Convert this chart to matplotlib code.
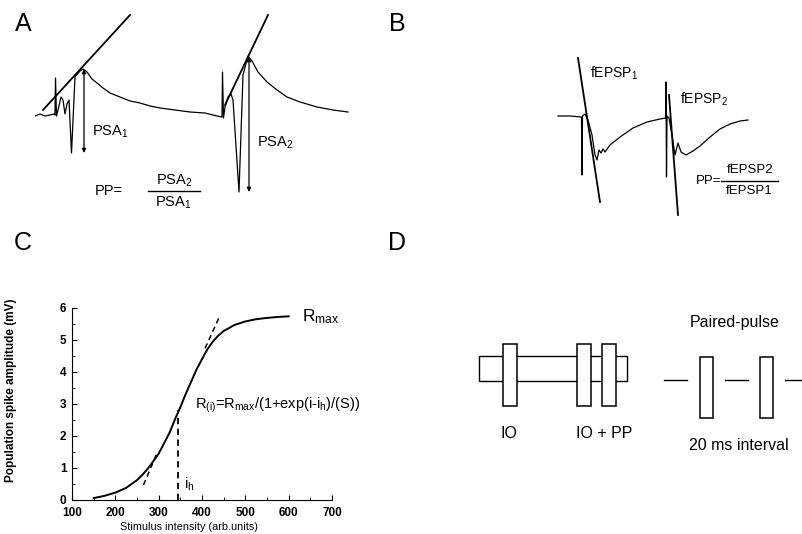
import numpy as np
import matplotlib
matplotlib.use('Agg')
import matplotlib.pyplot as plt
from matplotlib.patches import Rectangle
from matplotlib.ticker import MultipleLocator

plt.rcParams['font.family'] = ['Liberation Sans', 'DejaVu Sans']
plt.rcParams['mathtext.fontset'] = 'custom'
plt.rcParams['mathtext.rm'] = 'Liberation Sans'
plt.rcParams['mathtext.it'] = 'Liberation Sans:italic'
plt.rcParams['mathtext.bf'] = 'Liberation Sans:bold'

########################################################################
# data
########################################################################

# --- A: population spike, two sweeps (time in ms, amplitude in mV)
psa_t = [0, 1, 2, 3, 3.8, 4, 4.1, 4.3, 4.6, 5.2, 5.6, 6, 6.4, 6.8, 7.3, 8, 9, 9.6,
         10.4, 11.4, 12.4, 13.6, 15, 17, 19, 21, 23, 25, 28, 31, 34, 36.4,
         37.4, 37.5, 37.7, 38, 38.6, 39.2, 39.6, 40.8, 41.6, 42.6, 43.4, 44.6,
         46.4, 48.4, 50.4, 53, 56.4, 59.6, 62.6]
psa_v = [-0.04, 0.04, -0.04, 0, 0.04, 0, 1.48, -0.04, 0.2, 0.72, 0.6, 0.04, 0.44, 0.6,
         -1.52, 1.52, 1.76, 1.84, 1.72, 1.44, 1.28, 1.08, 0.88, 0.72, 0.56, 0.48,
         0.36, 0.28, 0.2, 0.12, 0.08, -0.04,
         -0.08, 1.72, -0.12, 0.32, 0.72, 0.84, 0.6, -3.08, 1.6, 2.36, 2.16, 1.72,
         1.32, 1.0, 0.72, 0.52, 0.32, 0.2, 0.12]
psa_tangent1 = ([1.6, 19.0], [0.2, 4.0])
psa_tangent2 = ([38.0, 46.6], [0.4, 4.0])
psa_arrow1 = (9.8, 1.84, -1.52)
psa_arrow2 = (42.8, 2.32, -3.08)

# --- B: field EPSP, two sweeps
fepsp_t = [0.6, 3, 5.3, 5.4, 5.5, 6, 6.6, 7.4, 8, 8.4, 8.8, 9.2, 9.6, 10, 11, 13, 15.6,
           18.4, 21, 22.1, 22.2, 22.3, 22.4, 22.8, 23.4, 24, 24.6, 25.2, 26.2, 27.6,
           29, 31, 33, 35, 37, 38.6]
fepsp_v = [0.04, 0.04, 0, -2.32, 0.04, 0.12, -0.12, -0.72, -1.52, -1.72, -1.32, -1.44,
           -1.28, -1.4, -1.12, -0.8, -0.44, -0.2, -0.08, -0.04, 1.4, -2.4, 0.04,
           -0.04, -0.72, -1.52, -1.04, -1.4, -1.52, -1.36, -1.16, -0.8, -0.48, -0.28,
           -0.16, -0.12]
fepsp_tangent1 = ([4.6, 9.0], [2.36, -3.4])
fepsp_tangent2 = ([22.8, 24.6], [0.88, -3.92])

# --- C: input/output curve
stim = [150, 175, 200, 225, 250, 262, 275, 287, 300, 312, 325, 337, 350, 362, 375,
        387, 400, 412, 425, 437, 450, 475, 500, 525, 550, 575, 600]
amp = [0.06, 0.13, 0.23, 0.38, 0.62, 0.78, 0.98, 1.2, 1.45, 1.76, 2.1, 2.5, 2.9,
       3.3, 3.7, 4.07, 4.4, 4.7, 4.95, 5.13, 5.28, 5.47, 5.58, 5.65, 5.69, 5.72, 5.74]
i_h = 345
tangent_lo = ([265, 296], [0.47, 1.46])
tangent_hi = ([407, 442], [4.74, 5.78])
x_ticks = [100, 200, 300, 400, 500, 600, 700]
y_ticks = [0, 1, 2, 3, 4, 5, 6]

# --- D: protocol (x, width) of the boxes
io_bar = (9, 148)
io_blocks = [33, 107, 132]
io_block_w = 14
pp_blocks = [230, 290]
pp_block_w = 13
pp_dashes = [(194, 217), (255, 278), (315, 332)]

########################################################################

fig = plt.figure(figsize=(8.02, 5.34), dpi=100)
W, H = 802.0, 534.0

def px_axes(left, top, right, bottom):
    ax = fig.add_axes([left / W, 1 - bottom / H, (right - left) / W, (bottom - top) / H])
    ax.set_axis_off()
    return ax

for lab, x, y in [('A', 23, 24), ('B', 397, 24), ('C', 23, 243), ('D', 397, 243)]:
    fig.text(x / W, 1 - y / H, lab, fontsize=18, ha='center', va='center')

### A
axA = px_axes(35, 15, 365, 215)
axA.set_xlim(0, 66)
axA.set_ylim(-4, 4)
axA.plot(psa_t, psa_v, color='black', lw=0.9)
for tx, ty in [psa_tangent1, psa_tangent2]:
    axA.plot(tx, ty, color='black', lw=1.3, clip_on=False)
for xa, top, bot in [psa_arrow1, psa_arrow2]:
    axA.annotate('', xy=(xa, bot), xytext=(xa, top),
                 arrowprops=dict(arrowstyle='<|-|>', color='black', lw=0.9,
                                 mutation_scale=6, shrinkA=0, shrinkB=0))
axA.text(11.4, -0.68, r'PSA$_\mathrm{1}$', fontsize=10.5, va='center')
axA.text(44.4, -1.12, r'PSA$_\mathrm{2}$', fontsize=10.5, va='center')
axA.text(12, -3.04, 'PP=', fontsize=10.5, va='center')
axA.text(27.8, -2.64, r'PSA$_\mathrm{2}$', fontsize=10.5, ha='center', va='center')
axA.plot([22.6, 33], [-3.02, -3.02], color='black', lw=1)
axA.text(27.6, -3.52, r'PSA$_\mathrm{1}$', fontsize=10.5, ha='center', va='center')

### B
axB = px_axes(555, 17, 805, 217)
axB.set_xlim(0, 50)
axB.set_ylim(-4, 4)
axB.plot(fepsp_t, fepsp_v, color='black', lw=0.9)
for tx, ty in [fepsp_tangent1, fepsp_tangent2]:
    axB.plot(tx, ty, color='black', lw=1.3, clip_on=False)
axB.text(7, 1.76, r'fEPSP$_\mathrm{1}$', fontsize=10, va='center')
axB.text(25, 0.72, r'fEPSP$_\mathrm{2}$', fontsize=10, va='center')
axB.text(33.2, -2.56, 'PP=', fontsize=9.5, ha='right', va='center')
axB.text(39, -2.12, 'fEPSP2', fontsize=9.5, ha='center', va='center')
axB.plot([33.2, 44.6], [-2.54, -2.54], color='black', lw=1)
axB.text(38.8, -2.96, 'fEPSP1', fontsize=9.5, ha='center', va='center')

### C
axC = fig.add_axes([72 / W, 34 / H, 260 / W, 192 / H])
axC.plot(stim, amp, color='black', lw=1.4)
axC.plot(*tangent_lo, color='black', lw=1.1, ls=(0, (3.5, 2.5)))
axC.plot(*tangent_hi, color='black', lw=1.1, ls=(0, (3.5, 2.5)))
axC.plot([i_h, i_h], [0, 2.8], color='black', lw=1.3, ls=(0, (3.5, 2.5)))
axC.set_xlim(100, 700)
axC.set_ylim(0, 6)
axC.set_xticks(x_ticks)
axC.set_yticks(y_ticks)
axC.xaxis.set_minor_locator(MultipleLocator(50))
axC.yaxis.set_minor_locator(MultipleLocator(0.5))
axC.tick_params(which='major', direction='in', length=3.5, width=0.8, labelsize=8.5)
axC.tick_params(which='minor', direction='in', length=2, width=0.6)
axC.tick_params(axis='x', pad=5)
axC.tick_params(axis='y', pad=4)
for t in axC.get_xticklabels() + axC.get_yticklabels():
    t.set_fontweight('bold')
axC.spines['top'].set_visible(False)
axC.spines['right'].set_visible(False)
axC.set_xlabel('Stimulus intensity (arb.units)', fontsize=7.8)
axC.set_ylabel('Population spike amplitude (mV)', fontsize=8.5, fontweight='bold')
axC.xaxis.set_label_coords(0.45, -0.112)
axC.yaxis.set_label_coords(-0.21, 0.57)
axC.text(630, 5.73, r'R$_\mathrm{max}$', fontsize=12.5, va='center')
axC.text(384, 2.97, r'R$_\mathrm{(i)}$=R$_\mathrm{max}$/(1+exp(i-i$_\mathrm{h}$)/(S))',
         fontsize=10.5, va='center')
axC.text(358, 0.5, r'i$_\mathrm{h}$', fontsize=10.5, va='center')

### D
axD = px_axes(470, 310, 802, 460)
axD.set_xlim(0, 332)
axD.set_ylim(0, 150)
axD.add_patch(Rectangle((io_bar[0], 79), io_bar[1], 25, fill=False, ec='black', lw=1))
for xb in io_blocks:
    axD.add_patch(Rectangle((xb, 54), io_block_w, 62, fc='white', ec='black', lw=1.1))
for xb in pp_blocks:
    axD.add_patch(Rectangle((xb, 42), pp_block_w, 61, fc='white', ec='black', lw=1.1))
for x0, x1 in pp_dashes:
    axD.plot([x0, x1], [80, 80], color='black', lw=1)
axD.text(39, 27, 'IO', fontsize=11.5, ha='center', va='center')
axD.text(134, 27, 'IO + PP', fontsize=11.5, ha='center', va='center')
axD.text(265, 137, 'Paired-pulse', fontsize=11.5, ha='center', va='center')
axD.text(269, 15, '20 ms interval', fontsize=11.5, ha='center', va='center')

fig.savefig('out.png', dpi=100)
